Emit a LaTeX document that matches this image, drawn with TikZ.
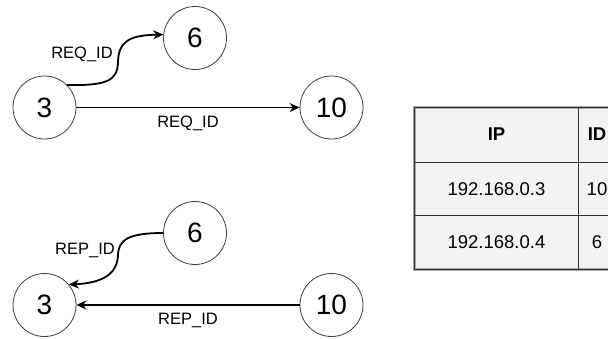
\documentclass[tikz,border=0pt]{standalone}
\usepackage{fontspec}
\setmainfont{Liberation Sans}
\usetikzlibrary{arrows.meta}
\definecolor{cellfill}{HTML}{F3F3F3}
\definecolor{rule}{HTML}{333333}
\tikzset{
  peer/.style={circle, draw=black!75, line width=0.8pt, minimum size=63pt,
               inner sep=0pt, font=\fontsize{28}{28}\selectfont},
  msg/.style={line width=1.8pt, -{Stealth[length=10pt,width=9pt]}},
  tag/.style={font=\fontsize{16.5}{16.5}\selectfont, inner sep=0pt},
  cell/.style={font=\fontsize{18.5}{18.5}\selectfont, inner sep=0pt},
  head/.style={cell, font=\fontsize{18.5}{18.5}\selectfont\bfseries},
}
\begin{document}
\begin{tikzpicture}[x=1pt, y=-1pt]
\clip (0,0) rectangle (608,338);
\fill[white] (0,0) rectangle (608,338);

% request phase
\node[peer] (q3)  at (44.5,107.5) {3};
\node[peer] (q6)  at (195,38)     {6};
\node[peer] (q10) at (331.5,107.5) {10};
\draw[msg] (q3) -- (q10) node[tag, pos=0.5, yshift=-16pt] (lq10) {REQ\_ID};
\draw[msg] (q3.45) .. controls (108,86) and (117.5,80) .. (118,62)
                   .. controls (118.5,44) and (126,35) .. (q6.174);
\node[tag] (lq6) at (82,54.5) {REQ\_ID};

% reply phase
\node[peer] (p6)  at (195,233)   {6};
\node[peer] (p3)  at (44.5,305)  {3};
\node[peer] (p10) at (331.5,305) {10};
\draw[msg] (p10) -- (p3) node[tag, pos=0.5, yshift=-15pt] (lp10) {REP\_ID};
\draw[msg] (p6.west) .. controls (128,233) and (118.5,240) .. (118,255)
                     .. controls (117.5,273) and (104,283) .. (p3.40);
\node[tag] (lp6) at (85,250) {REP\_ID};

% routing table
\fill[cellfill] (414,107) rectangle (616,269);
\draw[gray!70, line width=3pt] (414,107) rectangle (616,269);
\draw[rule, line width=1pt] (414,107) rectangle (616,269);
\draw[rule, line width=0.8pt] (414,162) -- (616,162);
\draw[rule, line width=0.8pt] (414,215.5) -- (616,215.5);
\draw[rule, line width=0.8pt] (578.5,107) -- (578.5,269);
\node[head] (hip) at (496.5,134.5) {IP};
\node[head] (hid) at (597,134.5) {ID};
\node[cell] (ip1) at (496.5,189) {192.168.0.3};
\node[cell] (id1) at (597,189) {10};
\node[cell] (ip2) at (496.5,242) {192.168.0.4};
\node[cell] (id2) at (597,242) {6};
\end{tikzpicture}
\end{document}
